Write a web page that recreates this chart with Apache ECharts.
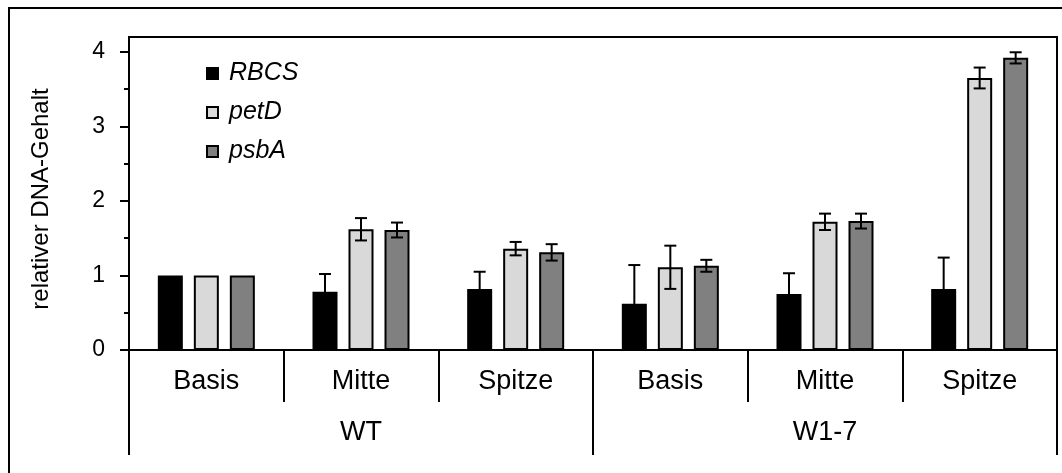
<!DOCTYPE html>
<html>
<head>
<meta charset="utf-8">
<script src="https://cdn.jsdelivr.net/npm/echarts@6/dist/echarts.min.js"></script>
<style>
html,body{margin:0;padding:0;background:#fff;}
#chart{width:1062px;height:473px;}
</style>
</head>
<body>
<div id="chart"></div>
<script>
// ---- data ----
const categories = ['Basis', 'Mitte', 'Spitze', 'Basis', 'Mitte', 'Spitze'];
const groups = ['WT', 'W1-7'];
const seriesNames = ['RBCS', 'petD', 'psbA'];
const rbcs = [1.00, 0.78, 0.82, 0.62, 0.75, 0.82];
const rbcsErr = [0, 0.24, 0.23, 0.52, 0.28, 0.42];
const petD = [1.00, 1.62, 1.36, 1.11, 1.72, 3.65];
const petDErr = [0, 0.15, 0.09, 0.29, 0.11, 0.14];
const psbA = [1.00, 1.61, 1.31, 1.13, 1.73, 3.92];
const psbAErr = [0, 0.10, 0.11, 0.08, 0.10, 0.075];
const yMajorTicks = [0, 1, 2, 3, 4];
const yMinorTicks = [0.5, 1.5, 2.5, 3.5];
const yTitle = 'relativer DNA-Gehalt';

const FONT = '"Liberation Sans", Arial, sans-serif';
const colors = ['#000000', '#d9d9d9', '#808080'];
const values = [rbcs, petD, psbA];
const errs = [rbcsErr, petDErr, psbAErr];
const BAR_W = 25, BAR_GAP = 11;
const offsets = [-(BAR_W + BAR_GAP), 0, BAR_W + BAR_GAP];

const chart = echarts.init(document.getElementById('chart'), null, {renderer: 'canvas'});

const barSeries = seriesNames.map((name, i) => ({
  name: name,
  type: 'bar',
  xAxisIndex: 0,
  yAxisIndex: 0,
  barWidth: BAR_W,
  barGap: (BAR_GAP / BAR_W * 100) + '%',
  itemStyle: {color: colors[i], borderColor: '#000', borderWidth: 2},
  data: values[i],
  z: 2
}));

const errSeries = seriesNames.map((name, i) => ({
  type: 'custom',
  xAxisIndex: 0,
  yAxisIndex: 0,
  z: 5,
  silent: true,
  data: values[i].map((v, k) => [k, v, errs[i][k]]),
  renderItem: function (params, api) {
    const idx = api.value(0), v = api.value(1), e = api.value(2);
    if (!e) return null;
    const top = api.coord([idx, v + e]);
    const bot = api.coord([idx, v - e]);
    const x = top[0] + offsets[i];
    const cap = 6;
    const st = {stroke: '#000', lineWidth: 2};
    return {
      type: 'group',
      children: [
        {type: 'line', shape: {x1: x, y1: top[1], x2: x, y2: bot[1]}, style: st},
        {type: 'line', shape: {x1: x - cap, y1: top[1], x2: x + cap, y2: top[1]}, style: st},
        {type: 'line', shape: {x1: x - cap, y1: bot[1], x2: x + cap, y2: bot[1]}, style: st}
      ]
    };
  }
}));

const option = {
  animation: false,
  backgroundColor: '#fff',
  textStyle: {fontFamily: FONT},
  grid: {left: 129, right: 5, top: 37, bottom: 123, show: true, borderColor: '#000', borderWidth: 2, containLabel: false},
  legend: {
    data: seriesNames,
    orient: 'vertical',
    left: 201,
    top: 56,
    itemWidth: 11,
    itemHeight: 11,
    itemGap: 14,
    icon: 'rect',
    textStyle: {fontFamily: FONT, fontSize: 25, fontStyle: 'italic', color: '#000', padding: [0, 0, 0, 6]},
    selectedMode: false
  },
  xAxis: [
    {
      type: 'category',
      data: categories,
      position: 'bottom',
      axisLine: {show: true, lineStyle: {color: '#000', width: 2}},
      axisTick: {show: true, interval: 0, length: 52, lineStyle: {color: '#000', width: 2}},
      axisLabel: {interval: 0, margin: 18, fontSize: 27, color: '#000', fontFamily: FONT},
      splitLine: {show: false}
    },
    {
      type: 'category',
      data: groups,
      position: 'bottom',
      axisLine: {show: false},
      axisTick: {show: true, interval: 0, length: 105, lineStyle: {color: '#000', width: 2}},
      axisLabel: {interval: 0, margin: 69, fontSize: 27, color: '#000', fontFamily: FONT},
      splitLine: {show: false}
    }
  ],
  yAxis: [
    {
      type: 'value',
      min: 0,
      max: 4.2,
      position: 'left',
      axisLine: {show: true, lineStyle: {color: '#000', width: 2}},
      axisTick: {show: true, length: 9, customValues: yMajorTicks, lineStyle: {color: '#000', width: 2}},
      axisLabel: {customValues: yMajorTicks, margin: 24, fontSize: 23, color: '#000', fontFamily: FONT},
      splitLine: {show: false}
    },
    {
      type: 'value',
      min: 0,
      max: 4.2,
      position: 'left',
      axisLine: {show: false},
      axisTick: {show: true, length: 5, customValues: yMinorTicks, lineStyle: {color: '#000', width: 2}},
      axisLabel: {show: false},
      splitLine: {show: false}
    }
  ],
  graphic: [
    {type: 'rect', shape: {x: 9, y: 8, width: 1200, height: 600}, style: {fill: null, stroke: '#000', lineWidth: 2}, silent: true},
    {type: 'text', x: 41, y: 199, rotation: Math.PI / 2, silent: true,
     style: {text: yTitle, fontSize: 24, fontFamily: FONT, fill: '#000', align: 'center', verticalAlign: 'middle'}}
  ],
  series: barSeries.concat(errSeries)
};
chart.setOption(option);
</script>
</body>
</html>
